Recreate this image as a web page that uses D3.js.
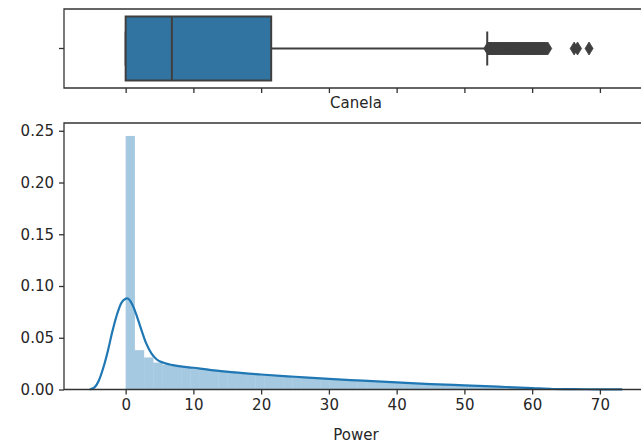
<!DOCTYPE html>
<html><head><meta charset="utf-8">
<script src="https://cdn.jsdelivr.net/npm/d3@7"></script>
<style>body{margin:0;background:#fff}svg{display:block}text{font-family:"DejaVu Sans",sans-serif;fill:#262626}</style>
</head><body>
<svg id="c" width="641" height="446"></svg>
<script>
// ---- data ----
const xTicks = [0,10,20,30,40,50,60,70];
const yTicks = [0.00,0.05,0.10,0.15,0.20,0.25];
const binStart = 0, binWidth = 1.368;
const histDensity = [0.245,0.038,0.031,0.026,0.024,0.023,0.022,0.021,0.020,0.019,0.018,0.0172,0.0163,0.0155,0.0147,0.0140,0.0133,0.0127,0.0121,0.0115,0.0109,0.0104,0.0099,0.0094,0.0089,0.0084,0.0080,0.0075,0.0071,0.0066,0.0062,0.0057,0.0053,0.0049,0.0046,0.0042,0.0039,0.0035,0.0032,0.0028,0.0025,0.0021,0.0017,0.0013,0.0008,0.0004,0.0001,0.0001,0.0001,0.0001];
const kdeX = [-5.3,-4.6,-4.0,-3.3,-2.6,-2.0,-1.3,-0.6,0.25,1.0,1.7,2.3,3.0,3.8,4.6,5.5,7,10,13,16,20,25,30,35,40,45,50,55,60,63,66,70,73.3];
const kdeY = [0,0.002,0.008,0.021,0.038,0.055,0.072,0.084,0.088,0.082,0.070,0.058,0.045,0.035,0.029,0.026,0.0235,0.021,0.0185,0.0165,0.0145,0.0123,0.0102,0.0085,0.0068,0.0052,0.0040,0.0027,0.0014,0.0005,0.0003,0.0002,0.0001];
const boxStats = {q1:0, median:6.82, q3:21.48, whiskerLow:0, whiskerHigh:53.37};
const outliers = [53.45,53.55,53.65,53.8,53.9,54.0,54.15,54.25,54.4,54.5,54.6,54.75,54.85,55.0,55.1,55.2,55.35,55.45,55.6,55.7,55.8,55.95,56.05,56.2,56.3,56.4,56.55,56.65,56.8,56.9,57.0,57.15,57.25,57.4,57.5,57.6,57.75,57.85,58.0,58.1,58.2,58.35,58.45,58.6,58.7,58.8,58.95,59.05,59.2,59.3,59.4,59.55,59.65,59.8,59.9,60.0,60.15,60.25,60.4,60.5,60.6,60.75,60.85,61.0,61.1,61.2,61.35,61.45,61.6,61.7,61.8,61.95,62.1,62.3,66.2,66.7,68.4];
const boxLabel = "Canela", xLabel = "Power";

// ---- layout ----
const svg = d3.select("#c");
const L = 64, R = 648;
const top1 = 9, bot1 = 88, top2 = 123, bot2 = 389.5;
const x = d3.scaleLinear().domain([-9.1, 77.1]).range([L, R]);
const y = d3.scaleLinear().domain([0, 0.2575]).range([bot2, top2]);
const axisCol = "#333", fs = 15;

// ---- bottom panel ----
const g2 = svg.append("g");
g2.selectAll("rect.bar").data(histDensity).join("rect")
  .attr("x", (d,i)=>x(binStart+i*binWidth))
  .attr("width", (d,i)=>x(binStart+(i+1)*binWidth)-x(binStart+i*binWidth))
  .attr("y", d=>y(d)).attr("height", d=>y(0)-y(d))
  .attr("fill", "#1f77b4").attr("fill-opacity", 0.4);
const kde = kdeX.map((v,i)=>[v,kdeY[i]]);
g2.append("path").datum(kde)
  .attr("d", d3.line().x(d=>x(d[0])).y(d=>y(d[1])).curve(d3.curveMonotoneX))
  .attr("fill","none").attr("stroke","#1f77b4").attr("stroke-width",2.2);

const xa2 = g2.append("g").attr("transform",`translate(0,${bot2})`)
  .call(d3.axisBottom(x).tickValues(xTicks).tickFormat(d3.format("d")).tickSize(5).tickPadding(5));
const ya2 = g2.append("g").attr("transform",`translate(${L},0)`)
  .call(d3.axisLeft(y).tickValues(yTicks).tickFormat(d3.format(".2f")).tickSize(5).tickPadding(5));
[xa2, ya2].forEach(a=>{
  a.select(".domain").remove();
  a.selectAll("line").attr("stroke",axisCol).attr("stroke-width",1.3);
  a.selectAll("text").attr("font-size",fs).attr("fill","#262626").attr("font-family","DejaVu Sans");
});
// frame
g2.append("path").attr("d",`M${R},${top2}H${L}V${bot2}H${R}`)
  .attr("fill","none").attr("stroke",axisCol).attr("stroke-width",1.3);
g2.append("text").attr("x",(L+R)/2).attr("y",440).attr("text-anchor","middle").attr("font-size",fs).text(xLabel);

// ---- top panel ----
const g1 = svg.append("g");
const yb = d3.scaleBand().domain([boxLabel]).range([top1, bot1]);
const cy = yb(boxLabel) + yb.bandwidth()/2;
const bh = 64, capH = 34;
const boxCol = "#3f3f3f";
// whiskers
g1.append("line").attr("x1",x(boxStats.q3)).attr("x2",x(boxStats.whiskerHigh)).attr("y1",cy).attr("y2",cy)
  .attr("stroke",boxCol).attr("stroke-width",2);
g1.append("line").attr("x1",x(boxStats.whiskerLow)).attr("x2",x(boxStats.q1)).attr("y1",cy).attr("y2",cy)
  .attr("stroke",boxCol).attr("stroke-width",2);
[boxStats.whiskerLow, boxStats.whiskerHigh].forEach(v=>{
  g1.append("line").attr("x1",x(v)).attr("x2",x(v)).attr("y1",cy-capH/2).attr("y2",cy+capH/2)
    .attr("stroke",boxCol).attr("stroke-width",2);
});
g1.append("rect").attr("x",x(boxStats.q1)).attr("width",x(boxStats.q3)-x(boxStats.q1))
  .attr("y",cy-bh/2).attr("height",bh).attr("fill","#3274a1").attr("stroke",boxCol).attr("stroke-width",2);
g1.append("line").attr("x1",x(boxStats.median)).attr("x2",x(boxStats.median)).attr("y1",cy-bh/2).attr("y2",cy+bh/2)
  .attr("stroke",boxCol).attr("stroke-width",2);
g1.selectAll("path.fl").data(outliers).join("path")
  .attr("d","M0,-6.5L4,0L0,6.5L-4,0Z")
  .attr("transform",d=>`translate(${x(d)},${cy})`)
  .attr("fill",boxCol).attr("stroke",boxCol).attr("stroke-width",0.8);

const xa1 = g1.append("g").attr("transform",`translate(0,${bot1})`)
  .call(d3.axisBottom(x).tickValues(xTicks).tickFormat("").tickSize(5));
const ya1 = g1.append("g").attr("transform",`translate(${L},0)`)
  .call(d3.axisLeft(yb).tickFormat("").tickSize(5));
[xa1, ya1].forEach(a=>{
  a.select(".domain").remove();
  a.selectAll("line").attr("stroke",axisCol).attr("stroke-width",1.3);
});
g1.append("path").attr("d",`M${R},${top1}H${L}V${bot1}H${R}`)
  .attr("fill","none").attr("stroke",axisCol).attr("stroke-width",1.3);
g1.append("text").attr("x",(L+R)/2).attr("y",108).attr("text-anchor","middle").attr("font-size",fs).text(boxLabel);
</script>
</body></html>
